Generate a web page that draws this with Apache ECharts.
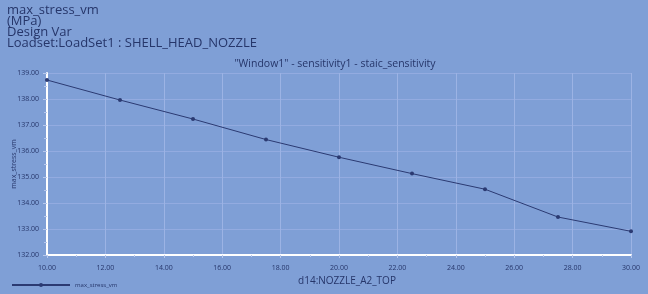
<!DOCTYPE html>
<html>
<head>
<meta charset="utf-8">
<script src="https://cdn.jsdelivr.net/npm/echarts@6/dist/echarts.min.js"></script>
<style>
html,body{margin:0;padding:0;background:#7f9fd6;}
#main{width:648px;height:294px;}
</style>
</head>
<body>
<div id="main"></div>
<script>
// design variable values and resulting max stress
var xVals = [10, 12.5, 15, 17.5, 20, 22.5, 25, 27.5, 30];
var stress = [138.73, 137.96, 137.23, 136.44, 135.76, 135.13, 134.53, 133.46, 132.91];
var headLines = ['max_stress_vm', '(MPa)', 'Design Var', 'Loadset:LoadSet1 : SHELL_HEAD_NOZZLE'];
var seriesName = 'max_stress_vm';

var ink = '#26366a';
var myChart = echarts.init(document.getElementById('main'));

var pts = [];
for (var i = 0; i < xVals.length; i++) pts.push([xVals[i], stress[i]]);

option = {
    backgroundColor: '#7f9fd6',
    textStyle: {fontFamily: 'Open Sans'},
    title: [
        {
            text: headLines.join('\n'),
            left: 2, top: 0,
            textStyle: {fontSize: 13, fontWeight: 'normal', color: ink, lineHeight: 11, fontFamily: 'Open Sans'}
        },
        {
            text: '"Window1" - sensitivity1 - staic_sensitivity',
            left: 330, top: 54, textAlign: 'center',
            textStyle: {fontSize: 10.5, fontWeight: 'normal', color: ink}
        }
    ],
    legend: {
        left: 6, bottom: 1,
        itemWidth: 58, itemHeight: 5,
        textStyle: {fontSize: 6, color: ink},
        data: [seriesName]
    },
    grid: {left: 47, right: 17, top: 73, bottom: 39, outerBoundsMode: 'none', containLabel: false},
    xAxis: {
        type: 'value',
        min: 10, max: 30, interval: 2,
        name: 'd14:NOZZLE_A2_TOP',
        nameLocation: 'middle', nameGap: 21,
        nameMoveOverlap: false,
        nameTextStyle: {fontSize: 10, color: ink, padding: [0, 0, 0, 16]},
        axisLine: {lineStyle: {color: '#ffffff', width: 2}},
        axisTick: {show: true, length: 3, lineStyle: {color: '#b8c8ec'}},
        minorTick: {show: true, splitNumber: 2, length: 2, lineStyle: {color: '#b8c8ec'}},
        axisLabel: {fontSize: 7, color: ink, margin: 9, formatter: function (v) { return v.toFixed(2); }},
        splitLine: {show: true, lineStyle: {color: '#9cb3e4', width: 1}}
    },
    yAxis: {
        type: 'value',
        min: 132, max: 139, interval: 1,
        name: 'max_stress_vm',
        nameLocation: 'middle', nameGap: 30,
        nameMoveOverlap: false,
        nameTextStyle: {fontSize: 7, color: ink},
        axisLine: {show: true, lineStyle: {color: '#ffffff', width: 2}},
        axisTick: {show: true, length: 4, lineStyle: {color: '#b8c8ec'}},
        minorTick: {show: true, splitNumber: 2, length: 3, lineStyle: {color: '#b8c8ec'}},
        axisLabel: {fontSize: 7, color: ink, margin: 8, formatter: function (v) { return v.toFixed(2); }},
        splitLine: {show: true, lineStyle: {color: '#93abe0', width: 1}}
    },
    series: [
        {
            name: seriesName,
            type: 'line',
            data: pts,
            symbol: 'circle',
            symbolSize: 4,
            lineStyle: {color: '#2b3a72', width: 1},
            itemStyle: {color: '#2b3a72'}
        }
    ]
};

myChart.setOption(option);
</script>
</body>
</html>
